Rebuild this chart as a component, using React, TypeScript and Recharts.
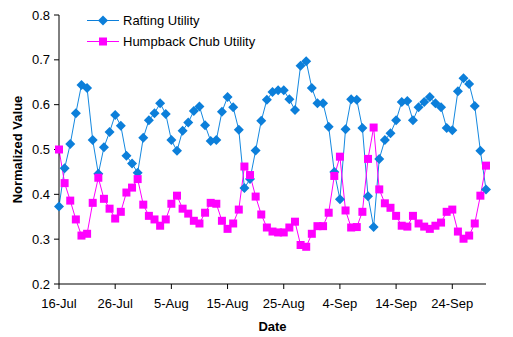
import { LineChart, Line, XAxis, YAxis } from "recharts";

// daily values, 16-Jul .. 30-Sep
const rafting = [
  0.373, 0.458, 0.512, 0.581, 0.644, 0.637, 0.521, 0.446, 0.505, 0.539,
  0.577, 0.553, 0.486, 0.469, 0.448, 0.526, 0.565, 0.581, 0.603, 0.579,
  0.521, 0.497, 0.542, 0.56, 0.586, 0.596, 0.554, 0.519, 0.521, 0.584,
  0.617, 0.594, 0.544, 0.414, 0.434, 0.498, 0.564, 0.611, 0.628, 0.632,
  0.632, 0.612, 0.588, 0.687, 0.697, 0.637, 0.603, 0.603, 0.551, 0.45,
  0.389, 0.545, 0.612, 0.611, 0.548, 0.396, 0.327, 0.479, 0.521, 0.536,
  0.565, 0.606, 0.608, 0.565, 0.594, 0.606, 0.617, 0.603, 0.594, 0.548,
  0.543, 0.63, 0.659, 0.646, 0.597, 0.497, 0.411,
];
const humpback = [
  0.5, 0.425, 0.386, 0.344, 0.308, 0.312, 0.381, 0.437, 0.39, 0.368,
  0.346, 0.361, 0.404, 0.415, 0.434, 0.377, 0.352, 0.344, 0.33, 0.344,
  0.379, 0.397, 0.368, 0.357, 0.341, 0.335, 0.359, 0.381, 0.379, 0.341,
  0.323, 0.335, 0.366, 0.462, 0.443, 0.395, 0.355, 0.326, 0.317, 0.315,
  0.315, 0.326, 0.339, 0.287, 0.283, 0.312, 0.329, 0.329, 0.359, 0.441,
  0.484, 0.364, 0.326, 0.327, 0.361, 0.479, 0.549, 0.411, 0.38, 0.37,
  0.352, 0.33, 0.328, 0.352, 0.335, 0.328, 0.323, 0.33, 0.337, 0.361,
  0.366, 0.317, 0.301, 0.308, 0.335, 0.397, 0.464,
];
const tickDays = [0, 10, 20, 30, 40, 50, 60, 70];
const tickLabels = ["16-Jul", "26-Jul", "5-Aug", "15-Aug", "25-Aug", "4-Sep", "14-Sep", "24-Sep"];
const yTicks = [0.2, 0.3, 0.4, 0.5, 0.6, 0.7, 0.8];

const BLUE = "#0C7FDA";
const PINK = "#FF00FF";
const FONT = '"Liberation Sans", Arial, sans-serif';

const data = rafting.map((r, i) => ({ day: i, rafting: r, humpback: humpback[i] }));

function Diamond(props: any) {
  const { cx, cy, key } = props;
  if (cx == null || cy == null) return <g key={key} />;
  return (
    <path key={key} d={`M${cx},${cy - 5}L${cx + 5},${cy}L${cx},${cy + 5}L${cx - 5},${cy}Z`} fill={BLUE} />
  );
}

function Square(props: any) {
  const { cx, cy, key } = props;
  if (cx == null || cy == null) return <g key={key} />;
  return <rect key={key} x={cx - 4} y={cy - 4} width={8} height={8} fill={PINK} />;
}

function LegendRow({ color, square, label }: { color: string; square?: boolean; label: string }) {
  return (
    <div style={{ display: "flex", alignItems: "center", height: 21 }}>
      <svg width={34} height={21}>
        <line x1={1} x2={33} y1={10.5} y2={10.5} stroke={color} strokeWidth={1} />
        {square ? (
          <rect x={13} y={6.5} width={8} height={8} fill={color} />
        ) : (
          <path d="M17,5.5L22,10.5L17,15.5L12,10.5Z" fill={color} />
        )}
      </svg>
      <span style={{ marginLeft: 3, fontSize: 13, fontFamily: FONT, color: "#000" }}>{label}</span>
    </div>
  );
}

export default function App() {
  const axisTick = { fontSize: 13, fill: "#000", fontFamily: FONT };
  return (
    <div style={{ position: "absolute", left: 0, top: 0, width: 513, height: 337, background: "#fff" }}>
      <LineChart width={513} height={337} data={data} margin={{ top: 15, right: 27, left: 0, bottom: 0 }}>
        <XAxis
          dataKey="day"
          type="number"
          domain={[0, 76]}
          ticks={tickDays}
          tickFormatter={(v) => tickLabels[tickDays.indexOf(v)] ?? ""}
          interval={0}
          height={53}
          tickSize={5}
          tickMargin={10}
          stroke="#000"
          tick={axisTick}
          label={{
            value: "Date",
            position: "insideBottom",
            offset: 6,
            style: { fontSize: 13, fontWeight: "bold", fill: "#000", fontFamily: FONT },
          }}
        />
        <YAxis
          domain={[0.2, 0.8]}
          ticks={yTicks}
          tickFormatter={(v) => v.toFixed(1)}
          width={59}
          tickSize={5}
          tickMargin={4}
          stroke="#000"
          tick={axisTick}
          label={{
            value: "Normalized Value",
            angle: -90,
            position: "insideLeft",
            offset: 17,
            style: { fontSize: 13, fontWeight: "bold", fill: "#000", fontFamily: FONT, textAnchor: "middle" },
          }}
        />
        <Line
          dataKey="rafting"
          stroke="#1488E0"
          strokeWidth={1}
          dot={Diamond}
          activeDot={false}
          isAnimationActive={false}
        />
        <Line
          dataKey="humpback"
          stroke={PINK}
          strokeWidth={1}
          dot={Square}
          activeDot={false}
          isAnimationActive={false}
        />
      </LineChart>
      <div style={{ position: "absolute", left: 86, top: 10 }}>
        <LegendRow color={BLUE} label="Rafting Utility" />
        <LegendRow color={PINK} square label="Humpback Chub Utility" />
      </div>
    </div>
  );
}
